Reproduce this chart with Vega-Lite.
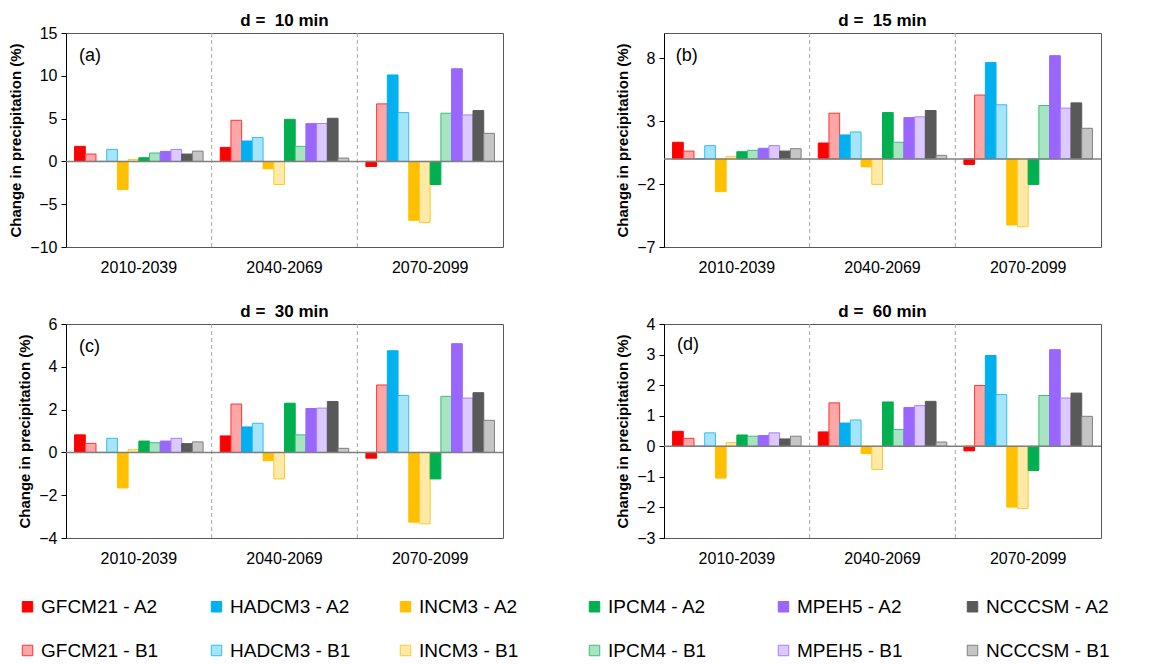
{
  "$schema": "https://vega.github.io/schema/vega-lite/v6.json",
  "background": "white",
  "padding": {"left": 8, "top": 11, "right": 5, "bottom": 5},
  "datasets": {
    "bars": [
      {"d":10,"p":"2010-2039","s":"GFCM21 - A2","v":1.76},{"d":10,"p":"2010-2039","s":"GFCM21 - B1","v":0.86},{"d":10,"p":"2010-2039","s":"HADCM3 - A2","v":0},{"d":10,"p":"2010-2039","s":"HADCM3 - B1","v":1.4},{"d":10,"p":"2010-2039","s":"INCM3 - A2","v":-3.3},{"d":10,"p":"2010-2039","s":"INCM3 - B1","v":0.23},{"d":10,"p":"2010-2039","s":"IPCM4 - A2","v":0.43},{"d":10,"p":"2010-2039","s":"IPCM4 - B1","v":0.98},{"d":10,"p":"2010-2039","s":"MPEH5 - A2","v":1.17},{"d":10,"p":"2010-2039","s":"MPEH5 - B1","v":1.4},{"d":10,"p":"2010-2039","s":"NCCCSM - A2","v":0.86},{"d":10,"p":"2010-2039","s":"NCCCSM - B1","v":1.2},
      {"d":10,"p":"2040-2069","s":"GFCM21 - A2","v":1.64},{"d":10,"p":"2040-2069","s":"GFCM21 - B1","v":4.8},{"d":10,"p":"2040-2069","s":"HADCM3 - A2","v":2.38},{"d":10,"p":"2040-2069","s":"HADCM3 - B1","v":2.8},{"d":10,"p":"2040-2069","s":"INCM3 - A2","v":-0.86},{"d":10,"p":"2040-2069","s":"INCM3 - B1","v":-2.7},{"d":10,"p":"2040-2069","s":"IPCM4 - A2","v":4.92},{"d":10,"p":"2040-2069","s":"IPCM4 - B1","v":1.76},{"d":10,"p":"2040-2069","s":"MPEH5 - A2","v":4.41},{"d":10,"p":"2040-2069","s":"MPEH5 - B1","v":4.43},{"d":10,"p":"2040-2069","s":"NCCCSM - A2","v":5.04},{"d":10,"p":"2040-2069","s":"NCCCSM - B1","v":0.39},
      {"d":10,"p":"2070-2099","s":"GFCM21 - A2","v":-0.59},{"d":10,"p":"2070-2099","s":"GFCM21 - B1","v":6.72},{"d":10,"p":"2070-2099","s":"HADCM3 - A2","v":10.1},{"d":10,"p":"2070-2099","s":"HADCM3 - B1","v":5.7},{"d":10,"p":"2070-2099","s":"INCM3 - A2","v":-6.88},{"d":10,"p":"2070-2099","s":"INCM3 - B1","v":-7.15},{"d":10,"p":"2070-2099","s":"IPCM4 - A2","v":-2.7},{"d":10,"p":"2070-2099","s":"IPCM4 - B1","v":5.63},{"d":10,"p":"2070-2099","s":"MPEH5 - A2","v":10.82},{"d":10,"p":"2070-2099","s":"MPEH5 - B1","v":5.43},{"d":10,"p":"2070-2099","s":"NCCCSM - A2","v":5.94},{"d":10,"p":"2070-2099","s":"NCCCSM - B1","v":3.28},
      {"d":15,"p":"2010-2039","s":"GFCM21 - A2","v":1.32},{"d":15,"p":"2010-2039","s":"GFCM21 - B1","v":0.62},{"d":15,"p":"2010-2039","s":"HADCM3 - A2","v":0},{"d":15,"p":"2010-2039","s":"HADCM3 - B1","v":1.05},{"d":15,"p":"2010-2039","s":"INCM3 - A2","v":-2.6},{"d":15,"p":"2010-2039","s":"INCM3 - B1","v":0.2},{"d":15,"p":"2010-2039","s":"IPCM4 - A2","v":0.57},{"d":15,"p":"2010-2039","s":"IPCM4 - B1","v":0.68},{"d":15,"p":"2010-2039","s":"MPEH5 - A2","v":0.84},{"d":15,"p":"2010-2039","s":"MPEH5 - B1","v":1.05},{"d":15,"p":"2010-2039","s":"NCCCSM - A2","v":0.62},{"d":15,"p":"2010-2039","s":"NCCCSM - B1","v":0.81},
      {"d":15,"p":"2040-2069","s":"GFCM21 - A2","v":1.26},{"d":15,"p":"2040-2069","s":"GFCM21 - B1","v":3.63},{"d":15,"p":"2040-2069","s":"HADCM3 - A2","v":1.9},{"d":15,"p":"2040-2069","s":"HADCM3 - B1","v":2.14},{"d":15,"p":"2040-2069","s":"INCM3 - A2","v":-0.63},{"d":15,"p":"2040-2069","s":"INCM3 - B1","v":-2.03},{"d":15,"p":"2040-2069","s":"IPCM4 - A2","v":3.68},{"d":15,"p":"2040-2069","s":"IPCM4 - B1","v":1.32},{"d":15,"p":"2040-2069","s":"MPEH5 - A2","v":3.28},{"d":15,"p":"2040-2069","s":"MPEH5 - B1","v":3.34},{"d":15,"p":"2040-2069","s":"NCCCSM - A2","v":3.84},{"d":15,"p":"2040-2069","s":"NCCCSM - B1","v":0.28},
      {"d":15,"p":"2070-2099","s":"GFCM21 - A2","v":-0.44},{"d":15,"p":"2070-2099","s":"GFCM21 - B1","v":5.07},{"d":15,"p":"2070-2099","s":"HADCM3 - A2","v":7.65},{"d":15,"p":"2070-2099","s":"HADCM3 - B1","v":4.3},{"d":15,"p":"2070-2099","s":"INCM3 - A2","v":-5.25},{"d":15,"p":"2070-2099","s":"INCM3 - B1","v":-5.39},{"d":15,"p":"2070-2099","s":"IPCM4 - A2","v":-2.03},{"d":15,"p":"2070-2099","s":"IPCM4 - B1","v":4.24},{"d":15,"p":"2070-2099","s":"MPEH5 - A2","v":8.2},{"d":15,"p":"2070-2099","s":"MPEH5 - B1","v":4.03},{"d":15,"p":"2070-2099","s":"NCCCSM - A2","v":4.45},{"d":15,"p":"2070-2099","s":"NCCCSM - B1","v":2.43},
      {"d":30,"p":"2010-2039","s":"GFCM21 - A2","v":0.82},{"d":30,"p":"2010-2039","s":"GFCM21 - B1","v":0.42},{"d":30,"p":"2010-2039","s":"HADCM3 - A2","v":0},{"d":30,"p":"2010-2039","s":"HADCM3 - B1","v":0.66},{"d":30,"p":"2010-2039","s":"INCM3 - A2","v":-1.66},{"d":30,"p":"2010-2039","s":"INCM3 - B1","v":0.13},{"d":30,"p":"2010-2039","s":"IPCM4 - A2","v":0.53},{"d":30,"p":"2010-2039","s":"IPCM4 - B1","v":0.45},{"d":30,"p":"2010-2039","s":"MPEH5 - A2","v":0.53},{"d":30,"p":"2010-2039","s":"MPEH5 - B1","v":0.66},{"d":30,"p":"2010-2039","s":"NCCCSM - A2","v":0.41},{"d":30,"p":"2010-2039","s":"NCCCSM - B1","v":0.49},
      {"d":30,"p":"2040-2069","s":"GFCM21 - A2","v":0.77},{"d":30,"p":"2040-2069","s":"GFCM21 - B1","v":2.26},{"d":30,"p":"2040-2069","s":"HADCM3 - A2","v":1.19},{"d":30,"p":"2040-2069","s":"HADCM3 - B1","v":1.36},{"d":30,"p":"2040-2069","s":"INCM3 - A2","v":-0.39},{"d":30,"p":"2040-2069","s":"INCM3 - B1","v":-1.24},{"d":30,"p":"2040-2069","s":"IPCM4 - A2","v":2.3},{"d":30,"p":"2040-2069","s":"IPCM4 - B1","v":0.82},{"d":30,"p":"2040-2069","s":"MPEH5 - A2","v":2.05},{"d":30,"p":"2040-2069","s":"MPEH5 - B1","v":2.07},{"d":30,"p":"2040-2069","s":"NCCCSM - A2","v":2.38},{"d":30,"p":"2040-2069","s":"NCCCSM - B1","v":0.19},
      {"d":30,"p":"2070-2099","s":"GFCM21 - A2","v":-0.27},{"d":30,"p":"2070-2099","s":"GFCM21 - B1","v":3.15},{"d":30,"p":"2070-2099","s":"HADCM3 - A2","v":4.75},{"d":30,"p":"2070-2099","s":"HADCM3 - B1","v":2.66},{"d":30,"p":"2070-2099","s":"INCM3 - A2","v":-3.26},{"d":30,"p":"2070-2099","s":"INCM3 - B1","v":-3.34},{"d":30,"p":"2070-2099","s":"IPCM4 - A2","v":-1.24},{"d":30,"p":"2070-2099","s":"IPCM4 - B1","v":2.62},{"d":30,"p":"2070-2099","s":"MPEH5 - A2","v":5.08},{"d":30,"p":"2070-2099","s":"MPEH5 - B1","v":2.54},{"d":30,"p":"2070-2099","s":"NCCCSM - A2","v":2.79},{"d":30,"p":"2070-2099","s":"NCCCSM - B1","v":1.5},
      {"d":60,"p":"2010-2039","s":"GFCM21 - A2","v":0.49},{"d":60,"p":"2010-2039","s":"GFCM21 - B1","v":0.26},{"d":60,"p":"2010-2039","s":"HADCM3 - A2","v":0},{"d":60,"p":"2010-2039","s":"HADCM3 - B1","v":0.44},{"d":60,"p":"2010-2039","s":"INCM3 - A2","v":-1.04},{"d":60,"p":"2010-2039","s":"INCM3 - B1","v":0.12},{"d":60,"p":"2010-2039","s":"IPCM4 - A2","v":0.37},{"d":60,"p":"2010-2039","s":"IPCM4 - B1","v":0.33},{"d":60,"p":"2010-2039","s":"MPEH5 - A2","v":0.35},{"d":60,"p":"2010-2039","s":"MPEH5 - B1","v":0.44},{"d":60,"p":"2010-2039","s":"NCCCSM - A2","v":0.24},{"d":60,"p":"2010-2039","s":"NCCCSM - B1","v":0.33},
      {"d":60,"p":"2040-2069","s":"GFCM21 - A2","v":0.47},{"d":60,"p":"2040-2069","s":"GFCM21 - B1","v":1.42},{"d":60,"p":"2040-2069","s":"HADCM3 - A2","v":0.76},{"d":60,"p":"2040-2069","s":"HADCM3 - B1","v":0.86},{"d":60,"p":"2040-2069","s":"INCM3 - A2","v":-0.24},{"d":60,"p":"2040-2069","s":"INCM3 - B1","v":-0.76},{"d":60,"p":"2040-2069","s":"IPCM4 - A2","v":1.45},{"d":60,"p":"2040-2069","s":"IPCM4 - B1","v":0.55},{"d":60,"p":"2040-2069","s":"MPEH5 - A2","v":1.27},{"d":60,"p":"2040-2069","s":"MPEH5 - B1","v":1.33},{"d":60,"p":"2040-2069","s":"NCCCSM - A2","v":1.47},{"d":60,"p":"2040-2069","s":"NCCCSM - B1","v":0.14},
      {"d":60,"p":"2070-2099","s":"GFCM21 - A2","v":-0.15},{"d":60,"p":"2070-2099","s":"GFCM21 - B1","v":1.99},{"d":60,"p":"2070-2099","s":"HADCM3 - A2","v":2.97},{"d":60,"p":"2070-2099","s":"HADCM3 - B1","v":1.69},{"d":60,"p":"2070-2099","s":"INCM3 - A2","v":-1.99},{"d":60,"p":"2070-2099","s":"INCM3 - B1","v":-2.04},{"d":60,"p":"2070-2099","s":"IPCM4 - A2","v":-0.79},{"d":60,"p":"2070-2099","s":"IPCM4 - B1","v":1.66},{"d":60,"p":"2070-2099","s":"MPEH5 - A2","v":3.16},{"d":60,"p":"2070-2099","s":"MPEH5 - B1","v":1.58},{"d":60,"p":"2070-2099","s":"NCCCSM - A2","v":1.74},{"d":60,"p":"2070-2099","s":"NCCCSM - B1","v":0.98}
    ],
    "seps": [{"p":"2040-2069"},{"p":"2070-2099"}],
    "zero": [{"z":0}]
  },
  "columns": 2,
  "spacing": {"row": 26, "column": 110},
  "concat": [
    {
      "title": {"text": "d =\u00a0 10 min", "offset": -5},
      "width": 437, "height": 214,
      "layer": [
        {"data": {"name": "seps"}, "mark": {"type": "rule", "color": "#a6a6a6", "strokeDash": [4, 3]},
         "encoding": {"x": {"field": "p", "type": "nominal", "bandPosition": 0, "scale": {"domain": ["2010-2039","2040-2069","2070-2099"], "paddingInner": 0, "paddingOuter": 0}, "axis": {"title": null}}}},
        {"data": {"name": "bars"}, "transform": [{"filter": "datum.d == 10"}], "mark": {"type": "bar", "strokeWidth": 1},
         "encoding": {
           "x": {"field": "p", "type": "nominal"},
           "xOffset": {"field": "s", "type": "nominal", "sort": ["GFCM21 - A2","GFCM21 - B1","HADCM3 - A2","HADCM3 - B1","INCM3 - A2","INCM3 - B1","IPCM4 - A2","IPCM4 - B1","MPEH5 - A2","MPEH5 - B1","NCCCSM - A2","NCCCSM - B1"], "scale": {"paddingInner": 0, "paddingOuter": 0.8}},
           "y": {"field": "v", "type": "quantitative", "scale": {"domain": [-10, 15], "nice": false, "zero": false}, "axis": {"values": [-10,-5,0,5,10,15], "tickCount": 12, "format": "d", "labelOverlap": false, "title": "Change in precipitation (%)"}},
           "fill": {"field": "s", "type": "nominal", "legend": {"title": null},
             "scale": {"domain": ["GFCM21 - A2","HADCM3 - A2","INCM3 - A2","IPCM4 - A2","MPEH5 - A2","NCCCSM - A2","GFCM21 - B1","HADCM3 - B1","INCM3 - B1","IPCM4 - B1","MPEH5 - B1","NCCCSM - B1"],
                       "range": ["#FF0000","#00B0F0","#FFC000","#00B050","#9966FF","#595959","#FFA6A6","#A6E4FA","#FFE9A6","#A6E4C2","#DBC9FF","#C5C5C5"]}},
           "stroke": {"field": "s", "type": "nominal", "legend": {"title": null},
             "scale": {"domain": ["GFCM21 - A2","HADCM3 - A2","INCM3 - A2","IPCM4 - A2","MPEH5 - A2","NCCCSM - A2","GFCM21 - B1","HADCM3 - B1","INCM3 - B1","IPCM4 - B1","MPEH5 - B1","NCCCSM - B1"],
                       "range": ["#FF0000","#00B0F0","#FFC000","#00B050","#9966FF","#595959","#FF3333","#33BFF2","#FFC933","#3DBF78","#A680FF","#808080"]}}
         }},
        {"data": {"name": "zero"}, "mark": {"type": "rule", "color": "#7f7f7f", "strokeWidth": 1.5}, "encoding": {"y": {"field": "z", "type": "quantitative"}}},
        {"data": {"values": [{"p": "2010-2039", "t": "(a)"}]}, "mark": {"type": "text", "align": "left", "baseline": "middle", "fontSize": 18},
         "encoding": {"x": {"field": "p", "type": "nominal", "bandPosition": 0.09}, "y": {"datum": 12.3}, "text": {"field": "t"}}}
      ]
    },
    {
      "title": {"text": "d =\u00a0 15 min", "offset": 3},
      "width": 437, "height": 214,
      "layer": [
        {"data": {"name": "seps"}, "mark": {"type": "rule", "color": "#a6a6a6", "strokeDash": [4, 3]},
         "encoding": {"x": {"field": "p", "type": "nominal", "bandPosition": 0, "scale": {"domain": ["2010-2039","2040-2069","2070-2099"], "paddingInner": 0, "paddingOuter": 0}, "axis": {"title": null}}}},
        {"data": {"name": "bars"}, "transform": [{"filter": "datum.d == 15"}], "mark": {"type": "bar", "strokeWidth": 1},
         "encoding": {
           "x": {"field": "p", "type": "nominal"},
           "xOffset": {"field": "s", "type": "nominal", "sort": ["GFCM21 - A2","GFCM21 - B1","HADCM3 - A2","HADCM3 - B1","INCM3 - A2","INCM3 - B1","IPCM4 - A2","IPCM4 - B1","MPEH5 - A2","MPEH5 - B1","NCCCSM - A2","NCCCSM - B1"], "scale": {"paddingInner": 0, "paddingOuter": 0.8}},
           "y": {"field": "v", "type": "quantitative", "scale": {"domain": [-7, 10], "nice": false, "zero": false}, "axis": {"values": [-7,-2,3,8], "tickCount": 12, "format": "d", "labelOverlap": false, "title": "Change in precipitation (%)"}},
           "fill": {"field": "s", "type": "nominal", "legend": {"title": null}},
           "stroke": {"field": "s", "type": "nominal", "legend": {"title": null}}
         }},
        {"data": {"name": "zero"}, "mark": {"type": "rule", "color": "#7f7f7f", "strokeWidth": 1.5}, "encoding": {"y": {"field": "z", "type": "quantitative"}}},
        {"data": {"values": [{"p": "2010-2039", "t": "(b)"}]}, "mark": {"type": "text", "align": "left", "baseline": "middle", "fontSize": 18},
         "encoding": {"x": {"field": "p", "type": "nominal", "bandPosition": 0.08}, "y": {"datum": 8.17}, "text": {"field": "t"}}}
      ]
    },
    {
      "title": {"text": "d =\u00a0 30 min", "offset": -5},
      "width": 437, "height": 214,
      "layer": [
        {"data": {"name": "seps"}, "mark": {"type": "rule", "color": "#a6a6a6", "strokeDash": [4, 3]},
         "encoding": {"x": {"field": "p", "type": "nominal", "bandPosition": 0, "scale": {"domain": ["2010-2039","2040-2069","2070-2099"], "paddingInner": 0, "paddingOuter": 0}, "axis": {"title": null}}}},
        {"data": {"name": "bars"}, "transform": [{"filter": "datum.d == 30"}], "mark": {"type": "bar", "strokeWidth": 1},
         "encoding": {
           "x": {"field": "p", "type": "nominal"},
           "xOffset": {"field": "s", "type": "nominal", "sort": ["GFCM21 - A2","GFCM21 - B1","HADCM3 - A2","HADCM3 - B1","INCM3 - A2","INCM3 - B1","IPCM4 - A2","IPCM4 - B1","MPEH5 - A2","MPEH5 - B1","NCCCSM - A2","NCCCSM - B1"], "scale": {"paddingInner": 0, "paddingOuter": 0.8}},
           "y": {"field": "v", "type": "quantitative", "scale": {"domain": [-4, 6], "nice": false, "zero": false}, "axis": {"values": [-4,-2,0,2,4,6], "tickCount": 12, "format": "d", "labelOverlap": false, "title": "Change in precipitation (%)"}},
           "fill": {"field": "s", "type": "nominal", "legend": {"title": null}},
           "stroke": {"field": "s", "type": "nominal", "legend": {"title": null}}
         }},
        {"data": {"name": "zero"}, "mark": {"type": "rule", "color": "#7f7f7f", "strokeWidth": 1.5}, "encoding": {"y": {"field": "z", "type": "quantitative"}}},
        {"data": {"values": [{"p": "2010-2039", "t": "(c)"}]}, "mark": {"type": "text", "align": "left", "baseline": "middle", "fontSize": 18},
         "encoding": {"x": {"field": "p", "type": "nominal", "bandPosition": 0.09}, "y": {"datum": 4.93}, "text": {"field": "t"}}}
      ]
    },
    {
      "title": {"text": "d =\u00a0 60 min", "offset": -5},
      "width": 437, "height": 214,
      "layer": [
        {"data": {"name": "seps"}, "mark": {"type": "rule", "color": "#a6a6a6", "strokeDash": [4, 3]},
         "encoding": {"x": {"field": "p", "type": "nominal", "bandPosition": 0, "scale": {"domain": ["2010-2039","2040-2069","2070-2099"], "paddingInner": 0, "paddingOuter": 0}, "axis": {"title": null}}}},
        {"data": {"name": "bars"}, "transform": [{"filter": "datum.d == 60"}], "mark": {"type": "bar", "strokeWidth": 1},
         "encoding": {
           "x": {"field": "p", "type": "nominal"},
           "xOffset": {"field": "s", "type": "nominal", "sort": ["GFCM21 - A2","GFCM21 - B1","HADCM3 - A2","HADCM3 - B1","INCM3 - A2","INCM3 - B1","IPCM4 - A2","IPCM4 - B1","MPEH5 - A2","MPEH5 - B1","NCCCSM - A2","NCCCSM - B1"], "scale": {"paddingInner": 0, "paddingOuter": 0.8}},
           "y": {"field": "v", "type": "quantitative", "scale": {"domain": [-3, 4], "nice": false, "zero": false}, "axis": {"values": [-3,-2,-1,0,1,2,3,4], "tickCount": 12, "format": "d", "labelOverlap": false, "title": "Change in precipitation (%)"}},
           "fill": {"field": "s", "type": "nominal", "legend": {"title": null}},
           "stroke": {"field": "s", "type": "nominal", "legend": {"title": null}}
         }},
        {"data": {"name": "zero"}, "mark": {"type": "rule", "color": "#7f7f7f", "strokeWidth": 1.5}, "encoding": {"y": {"field": "z", "type": "quantitative"}}},
        {"data": {"values": [{"p": "2010-2039", "t": "(d)"}]}, "mark": {"type": "text", "align": "left", "baseline": "middle", "fontSize": 18},
         "encoding": {"x": {"field": "p", "type": "nominal", "bandPosition": 0.09}, "y": {"datum": 3.31}, "text": {"field": "t"}}}
      ]
    }
  ],
  "resolve": {
    "scale": {"x": "independent", "y": "independent", "xOffset": "independent", "fill": "shared", "stroke": "shared"},
    "legend": {"fill": "shared", "stroke": "shared"}
  },
  "config": {
    "font": "Liberation Sans",
    "view": {"stroke": "#595959", "strokeWidth": 1},
    "text": {"font": "Liberation Sans", "color": "black"},
    "title": {"fontSize": 17, "fontWeight": "bold", "color": "black", "font": "Liberation Sans", "anchor": "middle"},
    "axis": {"grid": false, "labelColor": "black", "labelFont": "Liberation Sans", "titleFont": "Liberation Sans", "titleColor": "black"},
    "axisX": {"ticks": false, "domain": false, "labelFontSize": 16, "labelPadding": 12, "labelAngle": 0},
    "axisY": {"domainColor": "black", "tickColor": "black", "tickSize": 5, "labelFontSize": 16, "labelPadding": 4, "labelOverlap": false, "titleFontSize": 15, "titleFontWeight": "bold", "titlePadding": 6},
    "legend": {
      "orient": "none", "legendX": -48, "legendY": 564, "direction": "horizontal", "columns": 6, "gridAlign": "all",
      "symbolType": "square", "symbolSize": 110, "symbolStrokeWidth": 1,
      "labelFontSize": 19, "labelFont": "Liberation Sans", "labelColor": "black", "labelLimit": 300,
      "columnPadding": 42, "rowPadding": 24
    },
    "mark": {"color": "#595959"}
  },
  "encoding": {}
}
